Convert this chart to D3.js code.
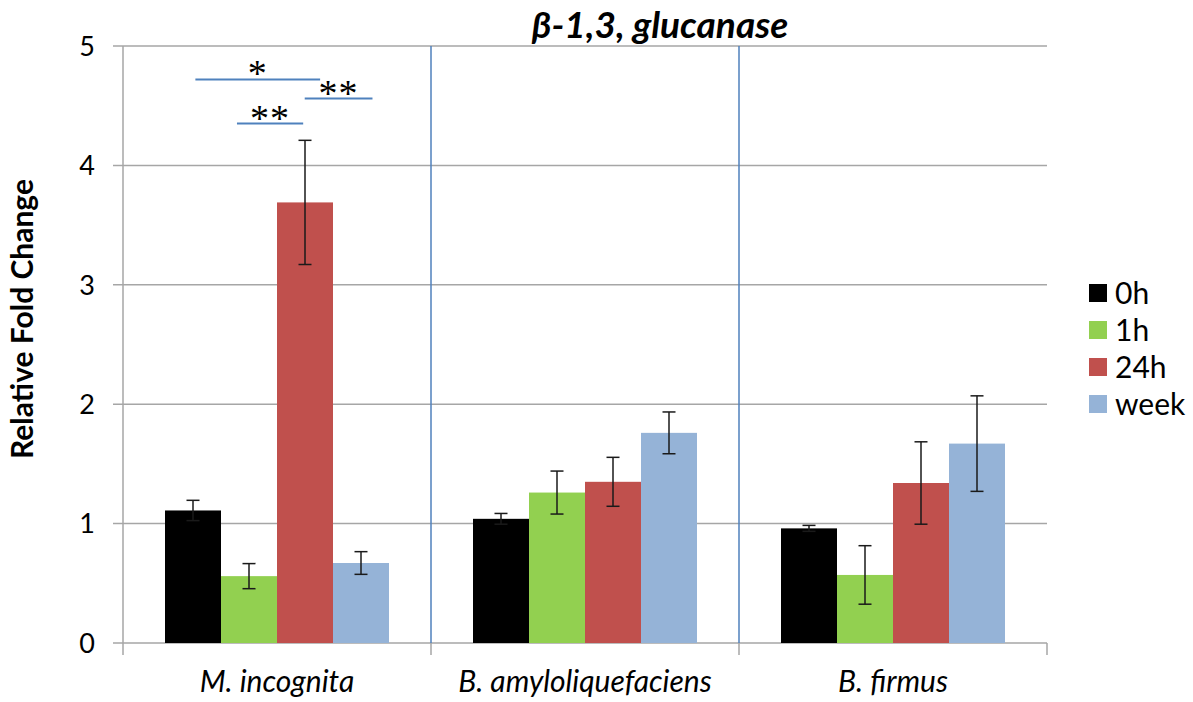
<!DOCTYPE html>
<html>
<head>
<meta charset="utf-8">
<script src="https://cdn.jsdelivr.net/npm/d3@7"></script>
<style>
  body { margin: 0; background: #fff; }
  svg text { font-family: Lato, "Open Sans", sans-serif; }
</style>
</head>
<body>
<div id="chart"></div>
<script>
// data
var categories = ["M. incognita", "B. amyloliquefaciens", "B. firmus"];
var series = ["0h", "1h", "24h", "week"];
var colors = ["#000000", "#92d050", "#c0504d", "#95b3d7"];
var values = [
  [1.11, 0.56, 3.69, 0.67],
  [1.04, 1.26, 1.35, 1.76],
  [0.96, 0.57, 1.34, 1.67]
];
var errors = [
  [0.085, 0.105, 0.52, 0.095],
  [0.045, 0.18, 0.205, 0.175],
  [0.025, 0.245, 0.345, 0.40]
];
var yTicks = [0, 1, 2, 3, 4, 5];
// significance brackets in M. incognita group: start/end as fraction of band, y in data units
var signif = [
  {from: 0.235, to: 0.640, y: 4.72, label: "*"},
  {from: 0.590, to: 0.810, y: 4.56, label: "**"},
  {from: 0.370, to: 0.585, y: 4.35, label: "**"}
];

var W = 1193, H = 702;
var margin = {top: 46, right: 146, bottom: 59, left: 123};
var width = W - margin.left - margin.right,
    height = H - margin.top - margin.bottom;

var svg = d3.select("#chart").append("svg")
    .attr("width", W)
    .attr("height", H);

var g = svg.append("g")
    .attr("transform", "translate(" + margin.left + "," + margin.top + ")");

var x = d3.scaleBand().domain(categories).range([0, width]).paddingInner(0).paddingOuter(0);
var xInner = d3.scaleBand().domain(series).range([0, 224]);
var groupOffset = (x.bandwidth() - 224) / 2;
var y = d3.scaleLinear().domain([0, 5]).range([height, 0]);

// gridlines
g.selectAll(".grid")
    .data(yTicks)
    .enter().append("line")
    .attr("x1", -10).attr("x2", width)
    .attr("y1", function(d) { return y(d); })
    .attr("y2", function(d) { return y(d); })
    .attr("stroke", "#a6a6a6")
    .attr("stroke-width", 1.5);

// y axis line
g.append("line")
    .attr("x1", 0).attr("x2", 0)
    .attr("y1", 0).attr("y2", height)
    .attr("stroke", "#a6a6a6").attr("stroke-width", 1.5);

// category ticks below x axis
g.selectAll(".xtick")
    .data(d3.range(categories.length + 1))
    .enter().append("line")
    .attr("x1", function(i) { return i * x.step(); })
    .attr("x2", function(i) { return i * x.step(); })
    .attr("y1", height).attr("y2", height + 12)
    .attr("stroke", "#a6a6a6").attr("stroke-width", 1.5);

// blue separators between groups
g.selectAll(".sep")
    .data(categories.slice(1))
    .enter().append("line")
    .attr("x1", function(d) { return x(d); })
    .attr("x2", function(d) { return x(d); })
    .attr("y1", 0).attr("y2", height)
    .attr("stroke", "#4f81bd").attr("stroke-width", 1.5);

// y tick labels
g.selectAll(".ylab")
    .data(yTicks)
    .enter().append("text")
    .attr("x", -28)
    .attr("y", function(d) { return y(d); })
    .attr("dy", "0.36em")
    .attr("text-anchor", "end")
    .style("font-size", "27px")
    .text(function(d) { return d; });

// bars
var groups = g.selectAll(".group")
    .data(categories)
    .enter().append("g")
    .attr("transform", function(d) { return "translate(" + (x(d) + groupOffset) + ",0)"; });

groups.selectAll("rect")
    .data(function(d, i) { return values[i].map(function(v, j) { return {s: series[j], v: v, j: j}; }); })
    .enter().append("rect")
    .attr("x", function(d) { return xInner(d.s); })
    .attr("width", xInner.bandwidth())
    .attr("y", function(d) { return y(d.v); })
    .attr("height", function(d) { return height - y(d.v); })
    .attr("fill", function(d) { return colors[d.j]; });

// error bars
var eb = groups.selectAll(".err")
    .data(function(d, i) { return values[i].map(function(v, j) { return {s: series[j], v: v, e: errors[i][j]}; }); })
    .enter().append("g")
    .attr("transform", function(d) { return "translate(" + (xInner(d.s) + xInner.bandwidth() / 2) + ",0)"; });
eb.append("line")
    .attr("y1", function(d) { return y(d.v + d.e); })
    .attr("y2", function(d) { return y(d.v - d.e); })
    .attr("stroke", "#1a1a1a").attr("stroke-width", 1.5);
eb.selectAll(".cap")
    .data(function(d) { return [d.v + d.e, d.v - d.e]; })
    .enter().append("line")
    .attr("x1", -6.5).attr("x2", 6.5)
    .attr("y1", function(d) { return y(d); })
    .attr("y2", function(d) { return y(d); })
    .attr("stroke", "#1a1a1a").attr("stroke-width", 1.5);

// significance annotations
var sg = g.selectAll(".sig")
    .data(signif)
    .enter().append("g");
sg.append("line")
    .attr("x1", function(d) { return x(categories[0]) + d.from * x.bandwidth(); })
    .attr("x2", function(d) { return x(categories[0]) + d.to * x.bandwidth(); })
    .attr("y1", function(d) { return y(d.y); })
    .attr("y2", function(d) { return y(d.y); })
    .attr("stroke", "#4f81bd").attr("stroke-width", 2);
sg.append("text")
    .attr("x", function(d) { return x(categories[0]) + (d.from + d.to) / 2 * x.bandwidth(); })
    .attr("y", function(d) { return y(d.y) + 7; })
    .attr("text-anchor", "middle")
    .style("font-family", "'Liberation Serif', serif")
    .style("font-size", "38px")
    .style("letter-spacing", "1px")
    .text(function(d) { return d.label; });

// x category labels
g.selectAll(".xlab")
    .data(categories)
    .enter().append("text")
    .attr("x", function(d) { return x(d) + x.bandwidth() / 2; })
    .attr("y", height + 49)
    .attr("text-anchor", "middle")
    .style("font-size", "30px")
    .style("font-style", "italic")
    .text(function(d) { return d; });

// y axis title
svg.append("text")
    .attr("transform", "translate(33,319) rotate(-90)")
    .attr("text-anchor", "middle")
    .style("font-size", "30px")
    .style("font-weight", "bold")
    .text("Relative Fold Change");

// chart title
svg.append("text")
    .attr("x", 660).attr("y", 38)
    .attr("text-anchor", "middle")
    .style("font-size", "37px")
    .style("font-weight", "bold")
    .style("font-style", "italic")
    .text("β-1,3, glucanase");

// legend
var legend = svg.append("g").attr("transform", "translate(1089,284)");
var li = legend.selectAll(".li")
    .data(series)
    .enter().append("g")
    .attr("transform", function(d, i) { return "translate(0," + (i * 37) + ")"; });
li.append("rect")
    .attr("width", 18).attr("height", 18)
    .attr("fill", function(d, i) { return colors[i]; });
li.append("text")
    .attr("x", 26).attr("y", 9)
    .attr("dy", "0.36em")
    .style("font-size", "30px")
    .text(function(d) { return d; });
</script>
</body>
</html>
